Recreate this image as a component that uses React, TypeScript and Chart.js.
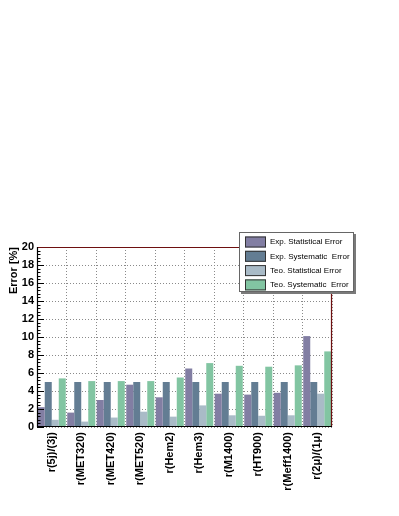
import React, { useEffect, useRef } from "react";
import { Chart, registerables } from "chart.js";

Chart.register(...registerables);

const categories = [
  "r(5j)/(3j)",
  "r(MET320)",
  "r(MET420)",
  "r(MET520)",
  "r(Hem2)",
  "r(Hem3)",
  "r(M1400)",
  "r(HT900)",
  "r(Meff1400)",
  "r(2μ)/(1μ)",
];

const expStat = [2.2, 1.6, 3.0, 4.7, 3.3, 6.5, 3.7, 3.6, 3.8, 10.1];
const expSyst = [5.0, 5.0, 5.0, 5.0, 5.0, 5.0, 5.0, 5.0, 5.0, 5.0];
const teoStat = [0.8, 0.6, 1.05, 1.7, 1.15, 2.4, 1.3, 1.25, 1.3, 3.7];
const teoSyst = [5.4, 5.1, 5.1, 5.1, 5.5, 7.1, 6.8, 6.7, 6.85, 8.4];

const seriesLabels = [
  "Exp. Statistical Error",
  "Exp. Systematic  Error",
  "Teo. Statistical Error",
  "Teo. Systematic  Error",
];
const seriesColors = ["#827ea3", "#637d93", "#a9bbc7", "#82c5a2"];

const yTicks = [0, 2, 4, 6, 8, 10, 12, 14, 16, 18, 20];

const framePlugin = {
  id: "rootFrame",
  afterDatasetsDraw(chart: any) {
    const { ctx, chartArea } = chart;
    const { left, right, top, bottom } = chartArea;
    const y = chart.scales.y;
    ctx.save();
    ctx.strokeStyle = "#000";
    ctx.lineWidth = 1;
    for (let i = 0; i <= 50; i++) {
      const v = i * 0.4;
      const py = Math.round(y.getPixelForValue(v)) + 0.5;
      const len = i % 5 === 0 ? 7 : 3.5;
      ctx.beginPath();
      ctx.moveTo(left, py);
      ctx.lineTo(left + len, py);
      ctx.stroke();
    }
    ctx.strokeStyle = "#6e1010";
    ctx.lineWidth = 1.2;
    ctx.beginPath();
    ctx.moveTo(left, top + 0.5);
    ctx.lineTo(right - 0.5, top + 0.5);
    ctx.lineTo(right - 0.5, bottom);
    ctx.stroke();
    ctx.strokeStyle = "#000";
    ctx.lineWidth = 1.2;
    ctx.beginPath();
    ctx.moveTo(left + 0.5, top);
    ctx.lineTo(left + 0.5, bottom - 0.5);
    ctx.lineTo(right, bottom - 0.5);
    ctx.stroke();
    ctx.restore();
  },
  afterDraw(chart: any) {
    const { ctx } = chart;
    const bx = 239;
    const by = 232;
    const bw = 115;
    const bh = 60;
    ctx.save();
    ctx.fillStyle = "#7a7a7a";
    ctx.fillRect(bx + 2, by + 2, bw, bh);
    ctx.fillStyle = "#ffffff";
    ctx.fillRect(bx, by, bw, bh);
    ctx.strokeStyle = "#666";
    ctx.lineWidth = 1;
    ctx.strokeRect(bx + 0.5, by + 0.5, bw - 1, bh - 1);
    ctx.font = "8px 'Liberation Sans', Arial, sans-serif";
    ctx.textBaseline = "middle";
    ctx.textAlign = "left";
    chart.data.datasets.forEach((ds: any, i: number) => {
      const cy = by + 10 + i * 14.3;
      ctx.fillStyle = ds.backgroundColor;
      ctx.fillRect(bx + 6, cy - 5.5, 21, 11);
      ctx.strokeStyle = "#333";
      ctx.strokeRect(bx + 6.5, cy - 5, 20, 10);
      ctx.fillStyle = "#000";
      ctx.fillText(ds.label, bx + 31, cy);
    });
    ctx.restore();
  },
};

export default function App() {
  const ref = useRef<HTMLCanvasElement | null>(null);

  useEffect(() => {
    if (!ref.current) return;
    const datasets = [expStat, expSyst, teoStat, teoSyst].map((d, i) => ({
      label: seriesLabels[i],
      data: d,
      backgroundColor: seriesColors[i],
      borderWidth: 0,
      categoryPercentage: 0.95,
      barPercentage: 1.0,
    }));
    const chart = new Chart(ref.current, {
      type: "bar",
      data: { labels: categories, datasets },
      plugins: [framePlugin],
      options: {
        responsive: false,
        animation: false,
        maintainAspectRatio: false,
        layout: { padding: { top: 247, right: 67, left: 0, bottom: 0 } },
        plugins: {
          legend: { display: false },
          tooltip: { enabled: false },
        },
        scales: {
          x: {
            grid: {
              display: true,
              offset: true,
              color: "#8a8a8a",
              lineWidth: 1,
              drawTicks: false,
              tickLength: 0,
            },
            border: { display: false, dash: [1, 2] },
            ticks: {
              minRotation: 90,
              maxRotation: 90,
              autoSkip: false,
              padding: 5,
              color: "#000",
              font: { family: "'Liberation Sans', Arial, sans-serif", size: 11, weight: "bold" },
            },
            afterFit(scale: any) {
              scale.height = 89;
            },
          },
          y: {
            min: 0,
            max: 20,
            afterBuildTicks(scale: any) {
              scale.ticks = yTicks.map((v) => ({ value: v }));
            },
            grid: {
              display: true,
              color: "#8a8a8a",
              lineWidth: 1,
              drawTicks: false,
              tickLength: 0,
            },
            border: { display: false, dash: [1, 2] },
            ticks: {
              padding: 3,
              color: "#000",
              font: { family: "'Liberation Sans', Arial, sans-serif", size: 11, weight: "bold" },
            },
            title: {
              display: true,
              text: "Error [%]",
              align: "end",
              color: "#000",
              padding: { top: 7, bottom: 0 },
              font: { family: "'Liberation Sans', Arial, sans-serif", size: 11, weight: "bold" },
            },
            afterFit(scale: any) {
              scale.width = 37;
            },
          },
        },
      } as any,
    });
    return () => chart.destroy();
  }, []);

  return (
    <div style={{ position: "absolute", left: 0, top: 0, width: 399, height: 516, background: "#fff" }}>
      <canvas ref={ref} width={399} height={516} style={{ width: 399, height: 516, display: "block" }} />
    </div>
  );
}
